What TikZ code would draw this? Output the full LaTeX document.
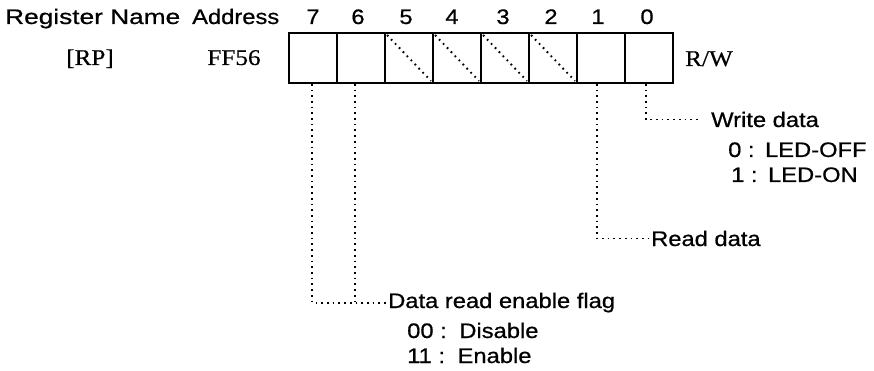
\documentclass[tikz,border=0pt]{standalone}
\usepackage{fontspec}
\newfontfamily\arialf[FakeStretch=1.13,FakeBold=0.7]{Liberation Sans}
\newfontfamily\arialw[FakeStretch=1.25,FakeBold=0.7]{Liberation Sans}
\newfontfamily\timesf[FakeStretch=1.12,FakeBold=0.4]{Liberation Serif}
\begin{document}
\begin{tikzpicture}[x=1pt,y=-1pt,
  lab/.style={font=\arialf\fontsize{21}{25}\selectfont, inner sep=0pt, anchor=base west},
  serlab/.style={font=\timesf\fontsize{22.5}{26}\selectfont, inner sep=0pt, anchor=base},
  bitnum/.style={font=\arialf\fontsize{21}{25}\selectfont, inner sep=0pt, anchor=base},
  bitbox/.style={draw, line width=1.8pt, minimum width=48pt, minimum height=50pt, inner sep=0pt},
  dotline/.style={line width=1.9pt, dash pattern=on 1.7pt off 4pt}]
\useasboundingbox (0,0) rectangle (874,371);

% header
\node[lab, font=\arialw\fontsize{21}{25}\selectfont] (hname) at (5,24) {Register Name};
\node[lab] (haddr) at (192,24) {Address};
\node[bitnum] (n7) at (313,24) {7};
\node[bitnum] (n6) at (358,24) {6};
\node[bitnum] (n5) at (406,24) {5};
\node[bitnum] (n4) at (452,24) {4};
\node[bitnum] (n3) at (503,24) {3};
\node[bitnum] (n2) at (551,24) {2};
\node[bitnum] (n1) at (598,24) {1};
\node[bitnum] (n0) at (647,24) {0};

% second row
\node[serlab] (rp) at (90,65) {[RP]};
\node[serlab] (addr) at (234,65) {FF56};
\node[serlab, anchor=base west] (rw) at (685,66) {R/W};

% bit boxes
\node[bitbox] (b7) at (313,58) {};
\node[bitbox] (b6) at (361,58) {};
\node[bitbox] (b5) at (409,58) {};
\node[bitbox] (b4) at (457,58) {};
\node[bitbox] (b3) at (505,58) {};
\node[bitbox] (b2) at (553,58) {};
\node[bitbox] (b1) at (601,58) {};
\node[bitbox] (b0) at (649,58) {};

\foreach \b in {b5,b4,b3,b2}
  \draw[dotline] ([shift={(3pt,-3pt)}]\b.north west) -- ([shift={(-3pt,3pt)}]\b.south east);

% descriptions
\node[lab, inner sep=1pt] (flag) at (387,308) {Data read enable flag};
\node[lab] (dis) at (407,338) {00 :\hspace{0.6em}Disable};
\node[lab] (ena) at (407,363) {11 :\hspace{0.6em}Enable};

\node[lab, inner sep=1pt] (read) at (650,246) {Read data};

\node[lab, inner sep=1pt] (write) at (710,127) {Write data};
\node[lab] (off) at (728,157) {0 :\hspace{0.5em}LED-OFF};
\node[lab] (on) at (731,182) {1 :\hspace{0.5em}LED-ON};

% connectors
\draw[dotline] ([xshift=-1pt]b7.south) |- (flag.west);
\draw[dotline] ([xshift=-6pt]b6.south) -- ([xshift=-6pt]b6.south |- flag.west);
\draw[dotline] ([xshift=-4pt]b1.south) |- (read.west);
\draw[dotline, shorten >=10pt] ([xshift=-3pt]b0.south) |- (write.west);
\end{tikzpicture}
\end{document}
